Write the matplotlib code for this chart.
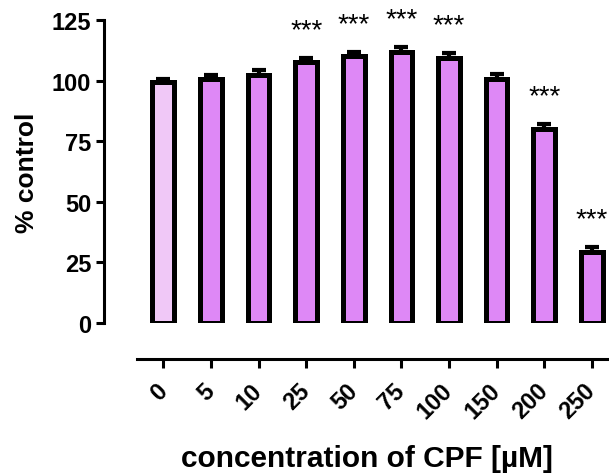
import matplotlib
matplotlib.use("Agg")
import matplotlib.pyplot as plt
import numpy as np

categories = ["0", "5", "10", "25", "50", "75", "100", "150", "200", "250"]
values = [99.5, 100.5, 102.5, 107.5, 110.2, 112.0, 109.5, 100.5, 80.0, 29.2]
errors = [1.3, 1.7, 1.8, 1.9, 1.7, 2.0, 1.9, 2.2, 2.0, 2.0]
significant = ["", "", "", "***", "***", "***", "***", "", "***", "***"]
yticks = [0, 25, 50, 75, 100, 125]

control_color = "#F0C8F7"
treat_color = "#DE88F6"

plt.rcParams['font.family'] = ['Liberation Sans', 'DejaVu Sans']

W, H = 609, 477
fig = plt.figure(figsize=(W / 100, H / 100), dpi=100)
left_px, right_px, top_px, bottom_px = 137, 609, 21, 324
ax = fig.add_axes([left_px / W, 1 - bottom_px / H, (right_px - left_px) / W, (bottom_px - top_px) / H])

for side in ["top", "right"]:
    ax.spines[side].set_visible(False)
ax.spines["left"].set_position(("outward", 24))
ax.spines["bottom"].set_position(("outward", 26))

x = np.arange(len(categories))
colors = [control_color] + [treat_color] * (len(categories) - 1)
ax.bar(x, values, width=0.456, color=colors, edgecolor="black", linewidth=3.6, zorder=3)
ax.errorbar(x, values, yerr=[np.zeros(len(values)), errors], fmt="none", ecolor="black",
            elinewidth=3, capsize=5, capthick=3, zorder=2)

for xi, v, e, s in zip(x, values, errors, significant):
    if s:
        ax.annotate(s, xy=(xi, v + e), xytext=(0, 20), textcoords="offset points",
                    ha="center", va="center", fontsize=20, annotation_clip=False)

ax.set_xlim(-0.553, 9.36)
ax.set_ylim(0, 125)
ax.spines["left"].set_bounds(0, 125)
ax.spines["left"].set_linewidth(2.2)
ax.spines["bottom"].set_linewidth(2.2)
ax.tick_params(axis="y", length=6, width=2.2, pad=3)
ax.tick_params(axis="x", length=6.5, width=2.2, pad=13.5)
ax.set_yticks(yticks)
ax.set_yticklabels([str(t) for t in yticks], fontsize=17, fontweight="bold")
ax.set_xticks(x)
ax.set_xticklabels(categories, fontsize=17, fontweight="bold", rotation=45,
                   ha="right", va="center", rotation_mode="anchor")

ax.set_ylabel("% control", fontsize=19, fontweight="bold", labelpad=9)
ax.set_xlabel("concentration of CPF [µM]", fontsize=21.5, fontweight="bold", labelpad=15)
ax.xaxis.label.set_x(0.488)

fig.savefig("out.png", dpi=100)
